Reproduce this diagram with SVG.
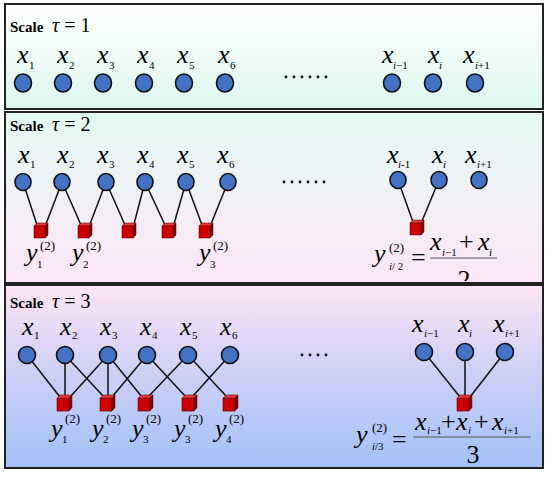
<svg xmlns="http://www.w3.org/2000/svg" xmlns:xlink="http://www.w3.org/1999/xlink" width="550" height="477" viewBox="0 0 550 477">
<defs>
<linearGradient id="g1" x1="0" y1="0" x2="0" y2="1"><stop offset="0" stop-color="#ffffff"/><stop offset="1" stop-color="#dcf6ee"/></linearGradient>
<linearGradient id="g2" x1="0" y1="0" x2="0" y2="1"><stop offset="0" stop-color="#e4faf4"/><stop offset="1" stop-color="#fde6f6"/></linearGradient>
<linearGradient id="g3" x1="0" y1="0" x2="0" y2="1"><stop offset="0" stop-color="#fde4f5"/><stop offset="0.5" stop-color="#cccff6"/><stop offset="1" stop-color="#a2c2f8"/></linearGradient>
<clipPath id="c2"><rect x="5" y="112" width="538" height="169"/></clipPath>
<g id="cube">
<path d="M0,3 L3,0 L14,0 L11,3 Z" fill="#e83a3a" stroke="#500" stroke-width="0.5"/>
<path d="M11,3 L14,0 L14,12 L11,15 Z" fill="#8a0000" stroke="#500" stroke-width="0.5"/>
<rect x="0" y="3" width="11" height="12" fill="#cc0000" stroke="#500" stroke-width="0.5"/>
</g>
</defs>
<style>
.panel{stroke:#222;stroke-width:2}
.scale{font-family:"Liberation Serif",serif;font-weight:bold;font-size:15px}
.tau{font-family:"Liberation Serif",serif;font-size:20px}
.it{font-style:italic}
.lx{font-family:"Liberation Serif",serif;font-style:italic;font-size:26px}
.sub{font-family:"Liberation Serif",serif;font-size:11px}
.sup{font-family:"Liberation Serif",serif;font-size:13px}
.m{font-family:"Liberation Serif",serif;font-size:26px}
.node{fill:#4472c4;stroke:#111;stroke-width:1.6}
.conn line{stroke:#111;stroke-width:1.5}
.dot{fill:#111}
</style>

<rect class="panel" x="5" y="4" width="538" height="105" fill="url(#g1)"/>
<rect class="panel" x="5" y="112" width="538" height="171" fill="url(#g2)"/>
<rect class="panel" x="5" y="285" width="538" height="183" fill="url(#g3)"/>

<!-- Panel 1 -->
<g id="p1-title"><text class="scale" x="10" y="32">Scale</text><text class="tau" x="52" y="32"><tspan class="it">τ</tspan> = 1</text></g>
<g id="p1-labels">
<text class="lx" x="17" y="63">x</text><text class="sub" x="29" y="69">1</text>
<text class="lx" x="57" y="63">x</text><text class="sub" x="69" y="69">2</text>
<text class="lx" x="97" y="63">x</text><text class="sub" x="109" y="69">3</text>
<text class="lx" x="137" y="63">x</text><text class="sub" x="149" y="69">4</text>
<text class="lx" x="177" y="63">x</text><text class="sub" x="189" y="69">5</text>
<text class="lx" x="218" y="63">x</text><text class="sub" x="230" y="69">6</text>
<text class="lx" x="382" y="63">x</text><text class="sub" x="393" y="69"><tspan class="it">i</tspan>−1</text>
<text class="lx" x="428" y="63">x</text><text class="sub it" x="439" y="69">i</text>
<text class="lx" x="463" y="63">x</text><text class="sub" x="475" y="69"><tspan class="it">i</tspan>+1</text>
</g>
<g id="p1-nodes">
<ellipse class="node" cx="23" cy="83" rx="8.5" ry="9"/>
<ellipse class="node" cx="63" cy="83" rx="8.5" ry="9"/>
<ellipse class="node" cx="103" cy="83" rx="8.5" ry="9"/>
<ellipse class="node" cx="144" cy="83" rx="8.5" ry="9"/>
<ellipse class="node" cx="184" cy="83" rx="8.5" ry="9"/>
<ellipse class="node" cx="225" cy="83" rx="8.5" ry="9"/>
<ellipse class="node" cx="392" cy="83" rx="8.5" ry="9"/>
<ellipse class="node" cx="433" cy="83" rx="8.5" ry="9"/>
<ellipse class="node" cx="475" cy="83" rx="8.5" ry="9"/>
</g>
<g id="p1-dots">
<circle class="dot" cx="286" cy="77" r="1.4"/><circle class="dot" cx="294" cy="77" r="1.4"/><circle class="dot" cx="302" cy="77" r="1.4"/><circle class="dot" cx="310" cy="77" r="1.4"/><circle class="dot" cx="318" cy="77" r="1.4"/><circle class="dot" cx="326" cy="77" r="1.4"/>
</g>

<!-- Panel 2 -->
<g id="p2-title"><text class="scale" x="10" y="131">Scale</text><text class="tau" x="52" y="131"><tspan class="it">τ</tspan> = 2</text></g>
<g id="p2-connectors" class="conn">
<line x1="23" y1="182" x2="37" y2="225"/>
<line x1="62" y1="182" x2="46" y2="224"/>
<line x1="62" y1="182" x2="81" y2="225"/>
<line x1="106" y1="182" x2="90" y2="224"/>
<line x1="106" y1="182" x2="125" y2="225"/>
<line x1="145" y1="182" x2="134" y2="224"/>
<line x1="145" y1="182" x2="165" y2="225"/>
<line x1="186" y1="182" x2="174" y2="224"/>
<line x1="186" y1="182" x2="202" y2="225"/>
<line x1="228" y1="182" x2="211" y2="224"/>
<line x1="398" y1="180" x2="413" y2="222"/>
<line x1="439" y1="180" x2="422" y2="221"/>
</g>
<g id="p2-labels">
<text class="lx" x="18" y="163">x</text><text class="sub" x="30" y="168">1</text>
<text class="lx" x="57" y="163">x</text><text class="sub" x="69" y="168">2</text>
<text class="lx" x="97" y="163">x</text><text class="sub" x="109" y="168">3</text>
<text class="lx" x="137" y="163">x</text><text class="sub" x="149" y="168">4</text>
<text class="lx" x="177" y="163">x</text><text class="sub" x="189" y="168">5</text>
<text class="lx" x="217" y="163">x</text><text class="sub" x="229" y="168">6</text>
<text class="lx" x="387" y="163">x</text><text class="sub" x="398" y="168"><tspan class="it">i</tspan>-1</text>
<text class="lx" x="432" y="163">x</text><text class="sub it" x="443" y="168">i</text>
<text class="lx" x="465" y="163">x</text><text class="sub" x="477" y="168"><tspan class="it">i</tspan>+1</text>
</g>
<g id="p2-nodes">
<ellipse class="node" cx="23" cy="182" rx="8" ry="8.5"/>
<ellipse class="node" cx="62" cy="182" rx="8" ry="8.5"/>
<ellipse class="node" cx="106" cy="182" rx="8" ry="8.5"/>
<ellipse class="node" cx="145" cy="182" rx="8" ry="8.5"/>
<ellipse class="node" cx="186" cy="182" rx="8" ry="8.5"/>
<ellipse class="node" cx="228" cy="182" rx="8" ry="8.5"/>
<ellipse class="node" cx="398" cy="180" rx="8" ry="8.5"/>
<ellipse class="node" cx="439" cy="180" rx="8" ry="8.5"/>
<ellipse class="node" cx="479" cy="180" rx="8" ry="8.5"/>
</g>
<g id="p2-cubes">
<use xlink:href="#cube" href="#cube" transform="translate(34,223)"/>
<use xlink:href="#cube" href="#cube" transform="translate(78,223)"/>
<use xlink:href="#cube" href="#cube" transform="translate(122,223)"/>
<use xlink:href="#cube" href="#cube" transform="translate(162,223)"/>
<use xlink:href="#cube" href="#cube" transform="translate(199,223)"/>
<use xlink:href="#cube" href="#cube" transform="translate(410,220)"/>
</g>
<g id="p2-dots">
<circle class="dot" cx="284" cy="182" r="1.4"/><circle class="dot" cx="292" cy="182" r="1.4"/><circle class="dot" cx="300" cy="182" r="1.4"/><circle class="dot" cx="308" cy="182" r="1.4"/><circle class="dot" cx="316" cy="182" r="1.4"/><circle class="dot" cx="324" cy="182" r="1.4"/>
</g>
<g id="p2-ylabels">
<text class="lx" x="26" y="261" font-size="27">y</text><text class="sup" x="40" y="250">(2)</text><text class="sub" x="37" y="268">1</text>
<text class="lx" x="72" y="261" font-size="27">y</text><text class="sup" x="86" y="250">(2)</text><text class="sub" x="83" y="268">2</text>
<text class="lx" x="199" y="261" font-size="27">y</text><text class="sup" x="213" y="250">(2)</text><text class="sub" x="210" y="268">3</text>
</g>
<g id="p2-formula" clip-path="url(#c2)">
<text class="lx" x="374" y="262" font-size="27">y</text><text class="sup" x="389" y="252">(2)</text><text class="sub" x="389" y="270"><tspan class="it">i</tspan>/ 2</text>
<text class="m" x="411" y="266">=</text>
<text class="lx" x="430" y="250">x</text><text class="sub" x="442" y="256"><tspan class="it">i</tspan>−1</text>
<text class="m" x="459" y="250">+</text>
<text class="lx" x="478" y="250">x</text><text class="sub it" x="489" y="256">i</text>
<line x1="430" y1="258" x2="497" y2="258" stroke="#555" stroke-width="1"/>
<text class="m" x="464" y="288" font-size="29" text-anchor="middle">2</text>
</g>

<!-- Panel 3 -->
<g id="p3-title"><text class="scale" x="10" y="308">Scale</text><text class="tau" x="52" y="308"><tspan class="it">τ</tspan> = 3</text></g>
<g id="p3-connectors" class="conn">
<line x1="27" y1="355" x2="60" y2="397"/>
<line x1="65" y1="355" x2="65" y2="397"/>
<line x1="65" y1="355" x2="104" y2="397"/>
<line x1="108" y1="355" x2="70" y2="397"/>
<line x1="108" y1="355" x2="108" y2="397"/>
<line x1="108" y1="355" x2="142" y2="397"/>
<line x1="147" y1="355" x2="112" y2="397"/>
<line x1="147" y1="355" x2="186" y2="397"/>
<line x1="188" y1="355" x2="148" y2="397"/>
<line x1="188" y1="355" x2="227" y2="397"/>
<line x1="230" y1="355" x2="192" y2="397"/>
<line x1="424" y1="352" x2="460" y2="397"/>
<line x1="465" y1="352" x2="465" y2="396"/>
<line x1="505" y1="352" x2="470" y2="397"/>
</g>
<g id="p3-labels">
<text class="lx" x="22" y="335">x</text><text class="sub" x="34" y="339">1</text>
<text class="lx" x="60" y="335">x</text><text class="sub" x="72" y="339">2</text>
<text class="lx" x="100" y="335">x</text><text class="sub" x="112" y="339">3</text>
<text class="lx" x="140" y="335">x</text><text class="sub" x="152" y="339">4</text>
<text class="lx" x="180" y="335">x</text><text class="sub" x="192" y="339">5</text>
<text class="lx" x="220" y="335">x</text><text class="sub" x="232" y="339">6</text>
<text class="lx" x="412" y="332">x</text><text class="sub" x="424" y="337"><tspan class="it">i</tspan>−1</text>
<text class="lx" x="458" y="332">x</text><text class="sub it" x="469" y="337">i</text>
<text class="lx" x="493" y="332">x</text><text class="sub" x="505" y="337"><tspan class="it">i</tspan>+1</text>
</g>
<g id="p3-nodes">
<ellipse class="node" cx="27" cy="355" rx="8.5" ry="8.5"/>
<ellipse class="node" cx="65" cy="355" rx="8.5" ry="8.5"/>
<ellipse class="node" cx="108" cy="355" rx="8.5" ry="8.5"/>
<ellipse class="node" cx="147" cy="355" rx="8.5" ry="8.5"/>
<ellipse class="node" cx="188" cy="355" rx="8.5" ry="8.5"/>
<ellipse class="node" cx="230" cy="355" rx="8.5" ry="8.5"/>
<ellipse class="node" cx="424" cy="352" rx="8.5" ry="8.5"/>
<ellipse class="node" cx="465" cy="352" rx="8.5" ry="8.5"/>
<ellipse class="node" cx="505" cy="352" rx="8.5" ry="8.5"/>
</g>
<g id="p3-cubes">
<use xlink:href="#cube" href="#cube" transform="translate(57,395) scale(1.07)"/>
<use xlink:href="#cube" href="#cube" transform="translate(100,395) scale(1.07)"/>
<use xlink:href="#cube" href="#cube" transform="translate(138,395) scale(1.07)"/>
<use xlink:href="#cube" href="#cube" transform="translate(182,395) scale(1.07)"/>
<use xlink:href="#cube" href="#cube" transform="translate(223,395) scale(1.07)"/>
<use xlink:href="#cube" href="#cube" transform="translate(457,395) scale(1.07)"/>
</g>
<g id="p3-dots">
<circle class="dot" cx="302" cy="355" r="1.4"/><circle class="dot" cx="310" cy="355" r="1.4"/><circle class="dot" cx="318" cy="355" r="1.4"/><circle class="dot" cx="326" cy="355" r="1.4"/>
</g>
<g id="p3-ylabels">
<text class="lx" x="51" y="437" font-size="30">y</text><text class="sup" x="65" y="423" font-size="14">(2)</text><text class="sub" x="62" y="443" font-size="12">1</text>
<text class="lx" x="92" y="437" font-size="30">y</text><text class="sup" x="106" y="423" font-size="14">(2)</text><text class="sub" x="103" y="443" font-size="12">2</text>
<text class="lx" x="132" y="437" font-size="30">y</text><text class="sup" x="146" y="423" font-size="14">(2)</text><text class="sub" x="143" y="443" font-size="12">3</text>
<text class="lx" x="174" y="437" font-size="30">y</text><text class="sup" x="188" y="423" font-size="14">(2)</text><text class="sub" x="185" y="443" font-size="12">3</text>
<text class="lx" x="215" y="437" font-size="30">y</text><text class="sup" x="229" y="423" font-size="14">(2)</text><text class="sub" x="226" y="443" font-size="12">4</text>
</g>
<g id="p3-formula">
<text class="lx" x="356" y="443" font-size="28">y</text><text class="sup" x="372" y="432">(2)</text><text class="sub" x="372" y="450"><tspan class="it">i</tspan>/3</text>
<text class="m" x="392" y="448">=</text>
<text class="lx" x="415" y="430">x</text><text class="sub" x="427" y="434"><tspan class="it">i</tspan>−1</text>
<text class="m" x="441" y="430">+</text>
<text class="lx" x="456" y="430">x</text><text class="sub it" x="468" y="434">i</text>
<text class="m" x="474" y="430">+</text>
<text class="lx" x="492" y="430">x</text><text class="sub" x="504" y="434"><tspan class="it">i</tspan>+1</text>
<line x1="413" y1="437" x2="531" y2="437" stroke="#555" stroke-width="1"/>
<text class="m" x="473" y="463" text-anchor="middle">3</text>
</g>
</svg>
